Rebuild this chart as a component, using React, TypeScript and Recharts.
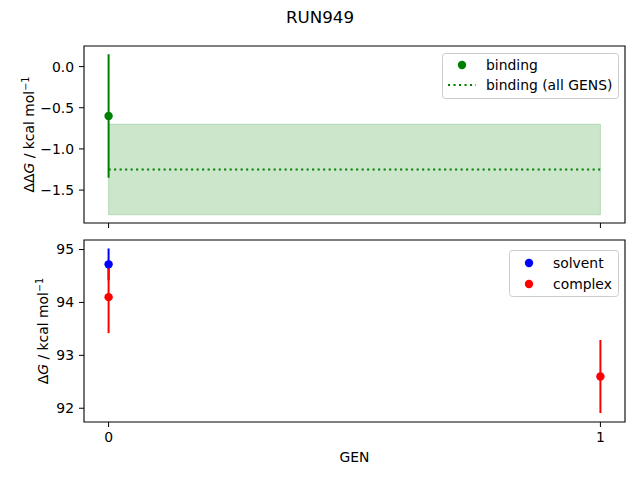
import { ComposedChart, Scatter, Line, XAxis, YAxis, ErrorBar, ReferenceArea } from "recharts";

// values
const gens = [0, 1];
const bindingGens = [0];
const bindingValues = [-0.6];
const bindingErrors = [0.75];
const bindingAllValue = -1.25;
const bindingAllError = 0.55;
const solventGens = [0];
const solventValues = [94.72];
const solventErrors = [0.3];
const complexGens = [0, 1];
const complexValues = [94.1, 92.6];
const complexErrors = [0.68, 0.69];
const topTicks = [0, -0.5, -1, -1.5];
const bottomTicks = [92, 93, 94, 95];
const xDomain = [-0.05, 1.05];
const topDomain = [-1.9, 0.25];
const bottomDomain = [91.74, 95.18];

const FONT = "DejaVu Sans, sans-serif";
const FS = 13.9;

const bindingData = bindingGens.map((g, i) => ({ gen: g, value: bindingValues[i], err: bindingErrors[i] }));
const bindingAllData = gens.map((g) => ({ gen: g, value: bindingAllValue }));
const solventData = solventGens.map((g, i) => ({ gen: g, value: solventValues[i], err: solventErrors[i] }));
const complexData = complexGens.map((g, i) => ({ gen: g, value: complexValues[i], err: complexErrors[i] }));

const fmtMinus = (s: string) => s.replace("-", "\u2212");

const dot = (color: string) => (p: any) => <circle cx={p.cx} cy={p.cy} r={4.2} fill={color} />;

const yLabel = (prefix: string, offset: number) => (props: any) => {
    const vb = props.viewBox;
    const x = vb.x + offset;
    const y = vb.y + vb.height / 2;
    return (
        <text x={x} y={y} transform={`rotate(-90 ${x} ${y})`} textAnchor="middle" fontSize={FS} fontFamily={FONT} fill="black">
            <tspan>{prefix}</tspan>
            <tspan fontStyle="italic">G</tspan>
            <tspan> / kcal mol</tspan>
            <tspan dy={-5} fontSize={9.7}>{"\u22121"}</tspan>
        </text>
    );
};

const TopChart = () => (
    <ComposedChart width={640} height={240} margin={{ top: 46, right: 15, bottom: 0, left: 0 }}>
        <XAxis dataKey="gen" type="number" domain={xDomain} ticks={gens} tickFormatter={() => ""}
            axisLine={false} tickSize={5} tickLine={{ stroke: "black" }} height={17} />
        <YAxis type="number" domain={topDomain} ticks={topTicks} width={84} axisLine={false}
            tickSize={5} tickMargin={5} tickLine={{ stroke: "black" }}
            tick={{ fill: "black", fontSize: FS, fontFamily: FONT }}
            tickFormatter={(v: number) => fmtMinus(v.toFixed(1))}
            label={{ content: yLabel("\u0394\u0394", 34) }} />
        <ReferenceArea x1={0} x2={1} y1={bindingAllValue - bindingAllError} y2={bindingAllValue + bindingAllError}
            fill="green" fillOpacity={0.2} stroke="green" strokeOpacity={0.2} />
        <Line data={bindingAllData} dataKey="value" stroke="green" strokeWidth={2.1} strokeDasharray="2.1 3.4"
            dot={false} isAnimationActive={false} />
        <Scatter data={bindingData} dataKey="value" fill="green" shape={dot("green")} isAnimationActive={false}>
            <ErrorBar dataKey="err" direction="y" width={0} stroke="green" strokeWidth={2} />
        </Scatter>
        <ReferenceArea x1={xDomain[0]} x2={xDomain[1]} y1={topDomain[0]} y2={topDomain[1]}
            fill="none" stroke="black" strokeWidth={1.1} ifOverflow="visible" />
    </ComposedChart>
);

const genLabel = (props: any) => {
    const vb = props.viewBox;
    return (
        <text x={vb.x + vb.width / 2} y={vb.y + 40} textAnchor="middle" fontSize={FS} fontFamily={FONT} fill="black">GEN</text>
    );
};

const BottomChart = () => (
    <ComposedChart width={640} height={250} margin={{ top: 10, right: 15, bottom: 0, left: 0 }}>
        <XAxis dataKey="gen" type="number" domain={xDomain} ticks={gens} axisLine={false}
            tickSize={5} tickMargin={5} tickLine={{ stroke: "black" }}
            tick={{ fill: "black", fontSize: FS, fontFamily: FONT }} height={58}
            label={{ content: genLabel }} />
        <YAxis type="number" domain={bottomDomain} ticks={bottomTicks} width={84} axisLine={false}
            tickSize={5} tickMargin={5} tickLine={{ stroke: "black" }}
            tick={{ fill: "black", fontSize: FS, fontFamily: FONT }}
            label={{ content: yLabel("\u0394", 48) }} />
        <Scatter data={solventData} dataKey="value" fill="blue" shape={dot("blue")} isAnimationActive={false}>
            <ErrorBar dataKey="err" direction="y" width={0} stroke="blue" strokeWidth={2} />
        </Scatter>
        <Scatter data={complexData} dataKey="value" fill="red" shape={dot("red")} isAnimationActive={false}>
            <ErrorBar dataKey="err" direction="y" width={0} stroke="red" strokeWidth={2} />
        </Scatter>
        <ReferenceArea x1={xDomain[0]} x2={xDomain[1]} y1={bottomDomain[0]} y2={bottomDomain[1]}
            fill="none" stroke="black" strokeWidth={1.1} ifOverflow="visible" />
    </ComposedChart>
);

const Legends = () => (
    <svg width={640} height={480} style={{ position: "absolute", left: 0, top: 0, pointerEvents: "none" }}
        fontFamily={FONT} fontSize={FS}>
        <rect x={442.5} y={53.5} width={176} height={45} rx={3} fill="white" fillOpacity={0.8} stroke="#cccccc" />
        <circle cx={462} cy={65} r={4.2} fill="green" />
        <text x={486} y={70}>binding</text>
        <line x1={448} y1={85} x2={476} y2={85} stroke="green" strokeWidth={2.1} strokeDasharray="2.1 3.4" />
        <text x={486} y={90}>binding (all GENS)</text>

        <rect x={509.5} y={250.5} width={109} height={46} rx={3} fill="white" fillOpacity={0.8} stroke="#cccccc" />
        <circle cx={529} cy={263} r={4.2} fill="blue" />
        <text x={553} y={268}>solvent</text>
        <circle cx={529} cy={284} r={4.2} fill="red" />
        <text x={553} y={289}>complex</text>
    </svg>
);

export default function App() {
    return (
        <div style={{ position: "absolute", left: 0, top: 0, width: 640, height: 480, background: "white", fontFamily: FONT }}>
            <div style={{ position: "absolute", top: 7, width: 640, textAlign: "center", fontSize: 16.7 }}>RUN949</div>
            <div style={{ position: "absolute", left: 0, top: 0 }}>
                <TopChart />
            </div>
            <div style={{ position: "absolute", left: 0, top: 230 }}>
                <BottomChart />
            </div>
            <Legends />
        </div>
    );
}
